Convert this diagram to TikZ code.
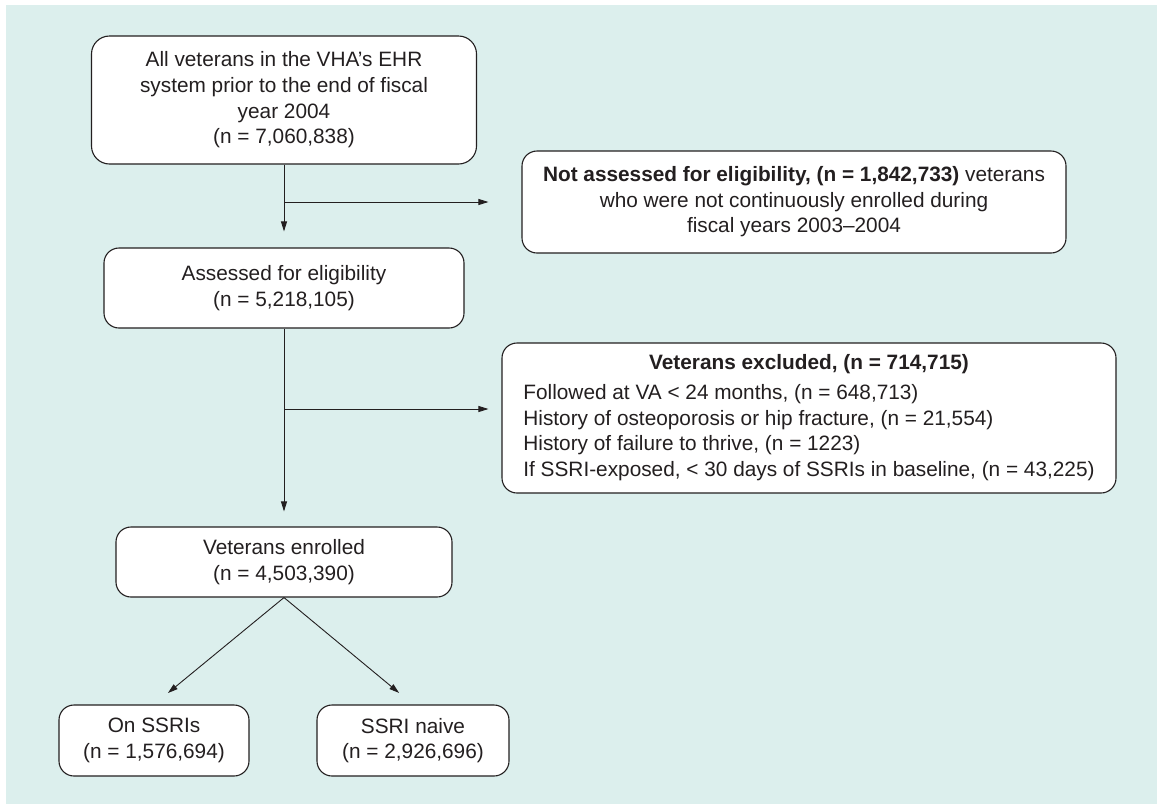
\documentclass[tikz,border=0pt]{standalone}
\usepackage{fontspec}
\setmainfont{Liberation Sans}
\usetikzlibrary{arrows.meta,calc}
\definecolor{panel}{RGB}{220,239,237}
\definecolor{ink}{RGB}{35,31,32}
\begin{document}
\begin{tikzpicture}[x=1pt,y=-1pt,
  box/.style={draw=ink,fill=white,line width=1.1pt,rounded corners=15pt,align=center,inner sep=0pt,
    text=ink,font=\fontsize{20.8}{25.6}\selectfont},
  arr/.style={draw=ink,line width=0.9pt,-{Triangle[length=10pt,width=6pt]}}]
\fill[white] (0,0) rectangle (1157,804);
\fill[panel] (6,5) rectangle (1157,804);
\node[box,minimum width=385,minimum height=128,rounded corners=18pt] (allvet) at (284,100)
  {All veterans in the VHA’s EHR\\system prior to the end of fiscal\\year 2004\\(n = 7,060,838)};
\node[box,minimum width=544,minimum height=102] (notassess) at (794,202)
  {\textbf{Not assessed for eligibility, (n = 1,842,733)} veterans\\who were not continuously enrolled during\\fiscal years 2003–2004};
\node[box,minimum width=360,minimum height=80] (assessed) at (284,288)
  {Assessed for eligibility\\(n = 5,218,105)};
\node[box,minimum width=614,minimum height=150] (excluded) at (809,418)
  {\begin{tabular}{@{}l@{}}
  \multicolumn{1}{@{}c@{}}{\bfseries Veterans excluded, (n = 714,715)}\\[4pt]
  Followed at VA < 24 months, (n = 648,713)\\
  History of osteoporosis or hip fracture, (n = 21,554)\\
  History of failure to thrive, (n = 1223)\\
  If SSRI-exposed, < 30 days of SSRIs in baseline, (n = 43,225)
  \end{tabular}};
\node[box,minimum width=336,minimum height=70] (enrolled) at (284,562)
  {Veterans enrolled\\(n = 4,503,390)};
\node[box,minimum width=190,minimum height=71] (onssri) at (154,740.5)
  {On SSRIs\\(n = 1,576,694)};
\node[box,minimum width=192,minimum height=71] (naive) at (413,740.5)
  {SSRI naive\\(n = 2,926,696)};
\coordinate (split1) at (284,202);
\coordinate (split2) at (284,409);
\draw[arr,shorten >=16pt] (allvet.south) -- (assessed.north);
\draw[arr,shorten >=33pt] (split1) -- (notassess.west);
\draw[arr,shorten >=15pt] (assessed.south) -- (enrolled.north);
\draw[arr,shorten >=13pt] (split2) -- (split2 -| excluded.west);
\foreach \n in {onssri,naive}
  \draw[arr,shorten >=18pt] (enrolled.south) -- (\n.north);
\end{tikzpicture}
\end{document}
